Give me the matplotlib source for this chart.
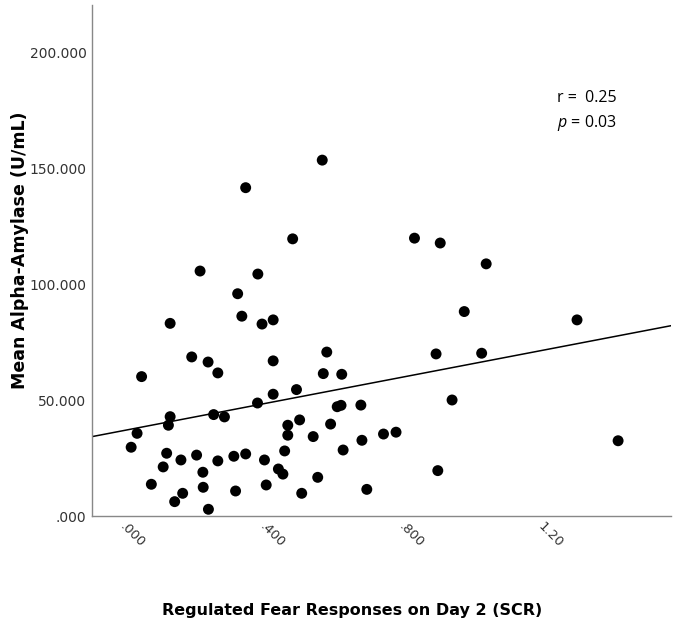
import numpy as np
import matplotlib
matplotlib.use("Agg")
import matplotlib.pyplot as plt

plt.rcParams['font.family'] = ['DejaVu Sans']
plt.rcParams['mathtext.fontset'] = 'custom'
plt.rcParams['mathtext.rm'] = 'Open Sans'
plt.rcParams['mathtext.it'] = 'Open Sans:italic'

# Regulated fear responses on day 2 (SCR)
scr = [0.581, 0.361, 0.496, 0.230, 0.396, 0.338, 0.350, 0.144, 0.408, 0.440,
       0.594, 0.206, 0.253, 0.440, 0.062, 0.281, 0.584, 0.637, 0.507, 0.440,
       0.395, 0.144, 0.269, 0.300, 0.139, 0.049, 0.692, 0.624, 0.635, 0.482,
       0.516, 0.605, 0.482, 0.555, 0.757, 0.793, 0.032, 0.695, 0.134, 0.175,
       0.220, 0.281, 0.327, 0.361, 0.415, 0.473, 0.641, 0.124, 0.238, 0.455,
       0.468, 0.568, 0.090, 0.239, 0.420, 0.180, 0.332, 0.522, 0.709, 0.157,
       0.254, 0.846, 0.920, 1.052, 0.989, 1.313, 0.908, 1.039, 0.954, 1.431,
       0.913]
# Mean alpha-amylase (U/mL)
amylase = [153.7, 141.8, 119.7, 105.8, 104.5, 96.0, 86.3, 83.2, 82.9, 84.7,
           70.8, 68.7, 66.5, 67.0, 60.2, 61.8, 61.5, 61.2, 54.6, 52.6,
           48.8, 42.9, 43.8, 42.8, 39.2, 35.7, 47.9, 47.2, 47.8, 39.2,
           41.5, 39.7, 34.9, 34.3, 35.4, 36.2, 29.7, 32.7, 27.1, 24.2,
           26.3, 23.8, 25.8, 26.8, 24.2, 28.1, 28.5, 21.2, 18.9, 20.3,
           18.1, 16.7, 13.7, 12.4, 13.4, 9.8, 10.8, 9.8, 11.5, 6.2,
           2.9, 120.0, 117.9, 108.9, 88.3, 84.7, 70.0, 70.3, 50.1, 32.5,
           19.6]

# fit line (value at x=0 and slope)
fit_intercept = 36.6
fit_slope = 28.8

x_ticks = [0.0, 0.4, 0.8, 1.2]
x_ticklabels = ['.000', '.400', '.800', '1.20']
y_ticks = [0, 50, 100, 150, 200]
y_ticklabels = ['.000', '50.000', '100.000', '150.000', '200.000']

W, H = 673, 629
fig = plt.figure(figsize=(W / 100, H / 100), dpi=100)
ax = fig.add_axes([92 / W, (H - 516) / H, (671 - 92) / W, (516 - 5) / H])

xmin, xmax = -0.0805, 1.583
ax.set_xlim(xmin, xmax)
ax.set_ylim(0, 220.7)

ax.scatter(scr, amylase, s=62, color='black', edgecolors='none', zorder=3)

xl = np.array([xmin, xmax])
ax.plot(xl, fit_intercept + fit_slope * xl, color='black', lw=1.1, zorder=2)

for s in ['top', 'right']:
    ax.spines[s].set_visible(False)
for s in ['left', 'bottom']:
    ax.spines[s].set_color('#888888')
    ax.spines[s].set_linewidth(1.0)

ax.set_xticks(x_ticks)
ax.set_xticklabels(x_ticklabels, rotation=-45, ha='left', va='baseline',
                   rotation_mode='anchor', fontsize=9.5, color='#333333')
ax.set_yticks(y_ticks)
ax.set_yticklabels(y_ticklabels, fontsize=10, color='#333333')
ax.tick_params(axis='both', length=0)
ax.tick_params(axis='x', pad=8)
ax.tick_params(axis='y', pad=4)

fig.text(20 / W, 1 - 250 / H, 'Mean Alpha-Amylase (U/mL)', rotation=90,
         ha='center', va='center', fontsize=12.5, fontweight='bold')
fig.text(352 / W, 1 - 611 / H, 'Regulated Fear Responses on Day 2 (SCR)',
         ha='center', va='center', fontsize=11.5, fontweight='bold')

fig.text(557 / W, 1 - 98 / H, 'r =  0.25', ha='left', va='center',
         fontsize=11.5, family='Open Sans')
fig.text(557 / W, 1 - 123 / H, r'$p$ = 0.03', ha='left', va='center',
         fontsize=11.5, family='Open Sans')

fig.savefig('out.png', dpi=100, facecolor='white')
